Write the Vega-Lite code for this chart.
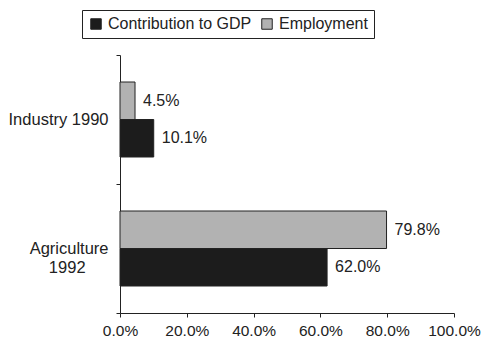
{
  "$schema": "https://vega.github.io/schema/vega-lite/v6.json",
  "width": 334,
  "height": 258,
  "autosize": "none",
  "padding": {"left": 120, "top": 55, "right": 40, "bottom": 43},
  "background": "white",
  "config": {
    "font": "Liberation Sans",
    "view": {"stroke": null},
    "axis": {"domainColor": "#222", "tickColor": "#222", "labelColor": "#222", "labelFont": "Liberation Sans", "grid": false}
  },
  "data": {
    "values": [
      {"category": "Industry 1990", "series": "Employment", "value": 0.045},
      {"category": "Industry 1990", "series": "Contribution to GDP", "value": 0.101},
      {"category": "Agriculture 1992", "series": "Employment", "value": 0.798},
      {"category": "Agriculture 1992", "series": "Contribution to GDP", "value": 0.62}
    ]
  },
  "encoding": {
    "y": {
      "field": "category",
      "type": "nominal",
      "sort": ["Industry 1990", "Agriculture 1992"],
      "scale": {"paddingInner": 0, "paddingOuter": 0},
      "axis": {
        "title": null,
        "tickBand": "extent",
        "tickSize": 4,
        "labelFontSize": 16.5,
        "labelPadding": 8,
        "labelExpr": "datum.value == 'Agriculture 1992' ? ['Agriculture', '1992\u00a0\u00a0\u00a0\u00a0\u00a0\u200b'] : datum.value",
        "labelLineHeight": 19,
        "domainWidth": 1
      }
    },
    "yOffset": {
      "field": "series",
      "type": "nominal",
      "sort": ["Employment", "Contribution to GDP"],
      "scale": {"paddingInner": 0, "paddingOuter": 0.72}
    },
    "x": {
      "field": "value",
      "type": "quantitative",
      "scale": {"domain": [0, 1], "nice": false},
      "axis": {
        "title": null,
        "format": ".1%",
        "values": [0, 0.2, 0.4, 0.6, 0.8, 1.0],
        "tickSize": 4,
        "labelFontSize": 15.5,
        "labelPadding": 6,
        "labelFlush": false
      }
    }
  },
  "layer": [
    {
      "mark": {"type": "bar", "stroke": "#222", "strokeWidth": 1},
      "encoding": {
        "color": {
          "field": "series",
          "type": "nominal",
          "sort": ["Contribution to GDP", "Employment"],
          "scale": {"domain": ["Contribution to GDP", "Employment"], "range": ["#1c1c1c", "#b2b2b2"]},
          "legend": {
            "title": null,
            "orient": "none",
            "legendX": -38,
            "legendY": -45,
            "direction": "horizontal",
            "symbolType": "square",
            "symbolSize": 110,
            "symbolStrokeColor": "#222",
            "symbolStrokeWidth": 1,
            "labelFontSize": 16,
            "labelColor": "#222",
            "labelFont": "Liberation Sans",
            "columnPadding": 7,
            "labelOffset": 4,
            "strokeColor": "#222",
            "padding": 6,
            "fillColor": "white"
          }
        }
      }
    },
    {
      "mark": {"type": "text", "align": "left", "dx": 8, "fontSize": 16, "color": "#222", "font": "Liberation Sans"},
      "encoding": {
        "text": {"field": "value", "type": "quantitative", "format": ".1%"}
      }
    }
  ]
}
